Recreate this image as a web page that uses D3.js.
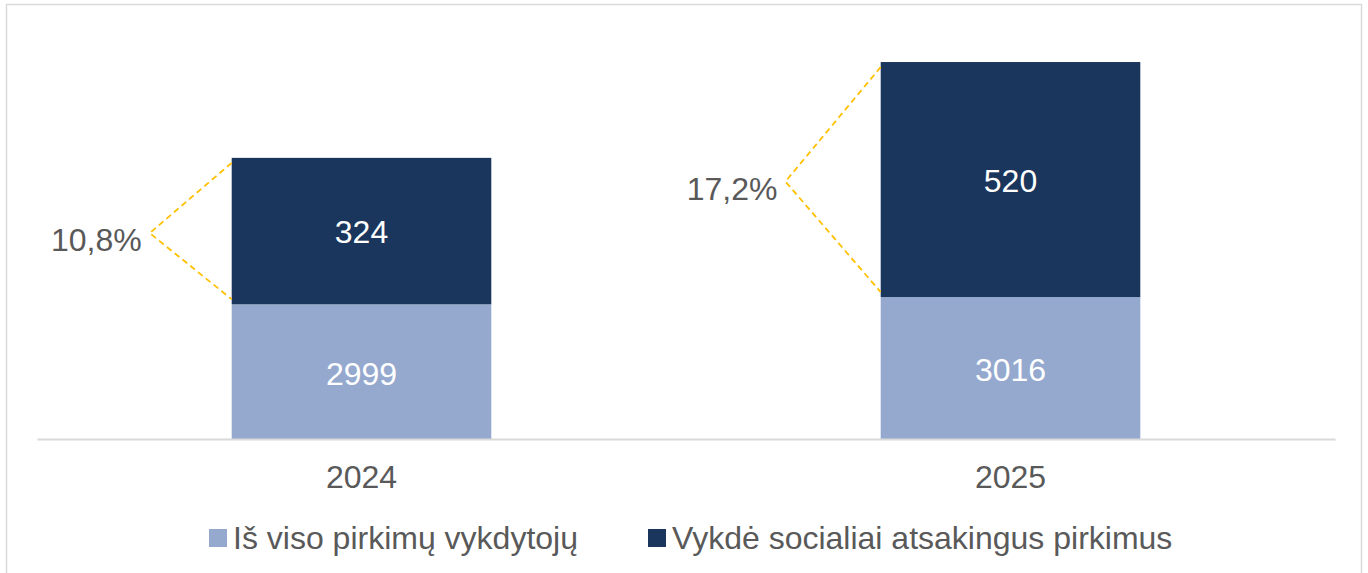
<!DOCTYPE html>
<html>
<head>
<meta charset="utf-8">
<script src="https://cdn.jsdelivr.net/npm/d3@7"></script>
<style>
  body { margin: 0; background: #fff; }
  text { font-family: "Liberation Sans", Arial, sans-serif; }
</style>
</head>
<body>
<svg id="chart" width="1368" height="573"></svg>
<script>
// duomenys
var years = ["2024", "2025"];
var totals = [2999, 3016];        // Iš viso pirkimų vykdytojų (label)
var totalsShown = [298, 314];     // bar height as drawn in the original chart
var social = [324, 520];          // Vykdė socialiai atsakingus pirkimus
var seriesNames = ["Iš viso pirkimų vykdytojų", "Vykdė socialiai atsakingus pirkimus"];
var colors = ["#95a9cf", "#1a365d"];

var svg = d3.select("#chart");

// rėmelis
svg.append("rect")
  .attr("x", 6.5).attr("y", 4.5)
  .attr("width", 1355).attr("height", 600)
  .attr("fill", "none")
  .attr("stroke", "#d9d9d9")
  .attr("stroke-width", 1.5);

var x = d3.scaleBand()
  .domain(years)
  .range([37, 1335])
  .paddingInner(0.6)
  .paddingOuter(0.3);

var y = d3.scaleLinear()
  .domain([0, 900])
  .range([439, 439 - 900 * 0.452]);

var rows = years.map(function(yr, i) {
  return { year: yr, total: totals[i], shown: totalsShown[i], social: social[i] };
});

// apatinė dalis
svg.selectAll(".low")
  .data(rows)
  .enter().append("rect")
  .attr("class", "low")
  .attr("x", function(d) { return x(d.year); })
  .attr("y", function(d) { return y(d.shown); })
  .attr("width", x.bandwidth())
  .attr("height", function(d) { return y(0) - y(d.shown); })
  .attr("fill", colors[0]);

// viršutinė dalis
svg.selectAll(".high")
  .data(rows)
  .enter().append("rect")
  .attr("class", "high")
  .attr("x", function(d) { return x(d.year); })
  .attr("y", function(d) { return y(d.shown + d.social); })
  .attr("width", x.bandwidth())
  .attr("height", function(d) { return y(d.shown) - y(d.shown + d.social); })
  .attr("fill", colors[1]);

// ašis
var axis = svg.append("g")
  .attr("transform", "translate(0," + y(0) + ")")
  .call(d3.axisBottom(x).tickSize(0).tickPadding(26));
axis.select(".domain").attr("stroke", "#d9d9d9").attr("stroke-width", 2);
axis.selectAll("text")
  .attr("font-size", 32)
  .attr("fill", "#595959")
  .style("font-family", "'Liberation Sans', Arial, sans-serif");

// reikšmės stulpeliuose
svg.selectAll(".lowLbl")
  .data(rows)
  .enter().append("text")
  .attr("x", function(d) { return x(d.year) + x.bandwidth() / 2; })
  .attr("y", function(d) { return (y(0) + y(d.shown)) / 2 + 2; })
  .attr("text-anchor", "middle")
  .attr("dominant-baseline", "central")
  .attr("font-size", 32)
  .attr("fill", "#fff")
  .text(function(d) { return d.total; });

svg.selectAll(".highLbl")
  .data(rows)
  .enter().append("text")
  .attr("x", function(d) { return x(d.year) + x.bandwidth() / 2; })
  .attr("y", function(d) { return (y(d.shown) + y(d.shown + d.social)) / 2 + 1; })
  .attr("text-anchor", "middle")
  .attr("dominant-baseline", "central")
  .attr("font-size", 32)
  .attr("fill", "#fff")
  .text(function(d) { return d.social; });

// procentai su punktyrinėmis linijomis
var pctFmt = function(v) { return d3.format(".1f")(v * 100).replace(".", ",") + "%"; };

rows.forEach(function(d) {
  var x0 = x(d.year);
  var top = y(d.shown + d.social);
  var bot = y(d.shown);
  var mid = (top + bot) / 2 + 2;
  var vx = x0 - 60 - (bot - top) * 0.15;
  svg.append("path")
    .attr("d", "M" + x0 + "," + (top + 5) + "L" + vx + "," + mid + "L" + x0 + "," + (bot - 5))
    .attr("fill", "none")
    .attr("stroke", "#ffc000")
    .attr("stroke-width", 1.8)
    .attr("stroke-dasharray", "6,4");
  svg.append("text")
    .attr("x", vx - 8)
    .attr("y", mid + 7)
    .attr("text-anchor", "end")
    .attr("dominant-baseline", "central")
    .attr("font-size", 32)
    .attr("fill", "#595959")
    .text(pctFmt(d.social / d.total));
});

// legenda
var legX = [209, 648];
seriesNames.forEach(function(name, i) {
  svg.append("rect")
    .attr("x", legX[i]).attr("y", 529)
    .attr("width", 18).attr("height", 18)
    .attr("fill", colors[i]);
  svg.append("text")
    .attr("x", legX[i] + 24)
    .attr("y", 538)
    .attr("dominant-baseline", "central")
    .attr("font-size", 32)
    .attr("fill", "#595959")
    .text(name);
});
</script>
</body>
</html>
